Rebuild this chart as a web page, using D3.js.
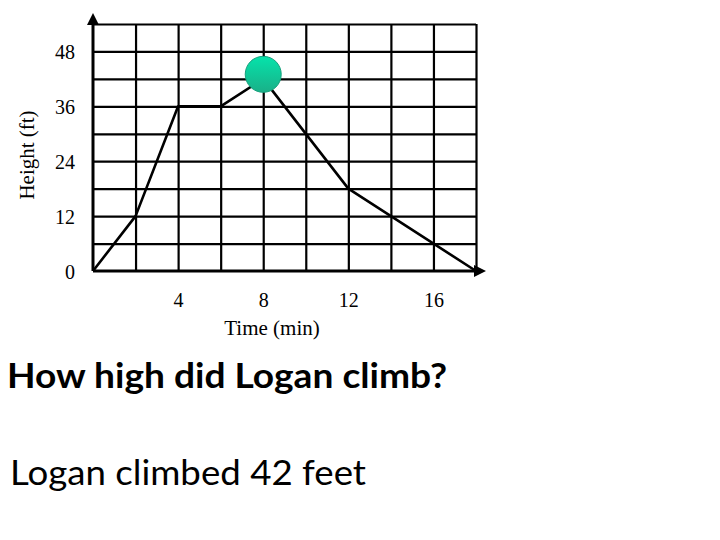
<!DOCTYPE html>
<html>
<head>
<meta charset="utf-8">
<script src="https://cdn.jsdelivr.net/npm/d3@7"></script>
<style>
  body { margin: 0; background: #fff; }
  svg { display: block; }
</style>
</head>
<body>
<svg id="chart" width="720" height="540"></svg>
<script>
// data
var times = [0, 2, 4, 6, 8, 12, 18];
var heights = [0, 12, 36, 36, 42, 18, 0];
var xTicks = [4, 8, 12, 16];
var yTicks = [0, 12, 24, 36, 48];
var xGrid = [2, 4, 6, 8, 10, 12, 14, 16, 18];
var yGrid = [6, 12, 18, 24, 30, 36, 42, 48, 54];
var peak = [8, 43];
var question = 'How high did Logan climb?';
var answer = 'Logan climbed 42 feet';

var svg = d3.select('#chart');
var x = d3.scaleLinear().domain([0, 18]).range([93, 476]);
var y = d3.scaleLinear().domain([0, 54]).range([271, 24]);

function noDomain(g) { g.select('.domain').remove(); }
function serifTicks(g) {
  g.attr('font-size', null).attr('font-family', null);
  g.selectAll('text')
    .attr('font-family', 'Liberation Serif, serif')
    .attr('font-size', 20)
    .attr('fill', '#000');
}

// grid lines
svg.append('g')
  .attr('transform', 'translate(0,' + y(0) + ')')
  .call(d3.axisBottom(x).tickValues(xGrid).tickSize(-(y(0) - y(54))).tickFormat(''))
  .call(noDomain)
  .selectAll('line').attr('stroke', '#000').attr('stroke-width', 2.2);

svg.append('g')
  .attr('transform', 'translate(' + x(0) + ',0)')
  .call(d3.axisLeft(y).tickValues(yGrid).tickSize(-(x(18) - x(0))).tickFormat(''))
  .call(noDomain)
  .selectAll('line').attr('stroke', '#000').attr('stroke-width', 2.2);

// tick labels
svg.append('g')
  .attr('transform', 'translate(0,' + (y(0) + 19) + ')')
  .call(d3.axisBottom(x).tickValues(xTicks).tickSize(0))
  .call(noDomain)
  .call(serifTicks);

svg.append('g')
  .attr('transform', 'translate(' + (x(0) - 15) + ',1)')
  .call(d3.axisLeft(y).tickValues(yTicks).tickSize(0))
  .call(noDomain)
  .call(serifTicks);

// axes with arrows
svg.append('line')
  .attr('x1', x(0)).attr('x2', x(18) + 4)
  .attr('y1', y(0)).attr('y2', y(0))
  .attr('stroke', '#000').attr('stroke-width', 3);
svg.append('line')
  .attr('x1', x(0)).attr('x2', x(0))
  .attr('y1', y(0)).attr('y2', y(54) - 4)
  .attr('stroke', '#000').attr('stroke-width', 3);
svg.append('path')
  .attr('d', 'M' + (x(18) + 10) + ',' + y(0) + 'l-12,-6l0,12z')
  .attr('fill', '#000');
svg.append('path')
  .attr('d', 'M' + x(0) + ',' + (y(54) - 11) + 'l-6,12l12,0z')
  .attr('fill', '#000');

// the climb
var line = d3.line()
  .x(function(d, i) { return x(times[i]); })
  .y(function(d) { return y(d); });
svg.append('path')
  .datum(heights)
  .attr('d', line)
  .attr('fill', 'none')
  .attr('stroke', '#000')
  .attr('stroke-width', 2.6)
  .attr('stroke-linejoin', 'round');

// highlighted peak
var grad = svg.append('defs').append('linearGradient')
  .attr('id', 'peakFill').attr('x1', 0).attr('y1', 0).attr('x2', 0).attr('y2', 1);
grad.append('stop').attr('offset', '0%').attr('stop-color', '#05e3ab');
grad.append('stop').attr('offset', '100%').attr('stop-color', '#1ab088');
svg.append('circle')
  .attr('cx', x(peak[0])).attr('cy', y(peak[1]))
  .attr('r', 18)
  .attr('fill', 'url(#peakFill)')
  .attr('stroke', '#17a07c').attr('stroke-width', 1);

// axis titles
svg.append('text')
  .attr('transform', 'translate(34,155) rotate(-90)')
  .attr('text-anchor', 'middle')
  .style('font-family', '"Liberation Serif", serif')
  .style('font-size', '21px')
  .text('Height (ft)');
svg.append('text')
  .attr('x', 272).attr('y', 335)
  .attr('text-anchor', 'middle')
  .style('font-family', '"Liberation Serif", serif')
  .style('font-size', '21px')
  .text('Time (min)');

// question and answer
svg.append('text')
  .attr('x', 7).attr('y', 388)
  .attr('textLength', 440).attr('lengthAdjust', 'spacingAndGlyphs')
  .style('font-family', 'Lato, sans-serif')
  .style('font-weight', 'bold')
  .style('font-size', '35px')
  .text(question);
svg.append('text')
  .attr('x', 10).attr('y', 485)
  .attr('textLength', 356).attr('lengthAdjust', 'spacingAndGlyphs')
  .style('font-family', 'Lato, sans-serif')
  .style('font-size', '35px')
  .text(answer);
</script>
</body>
</html>
